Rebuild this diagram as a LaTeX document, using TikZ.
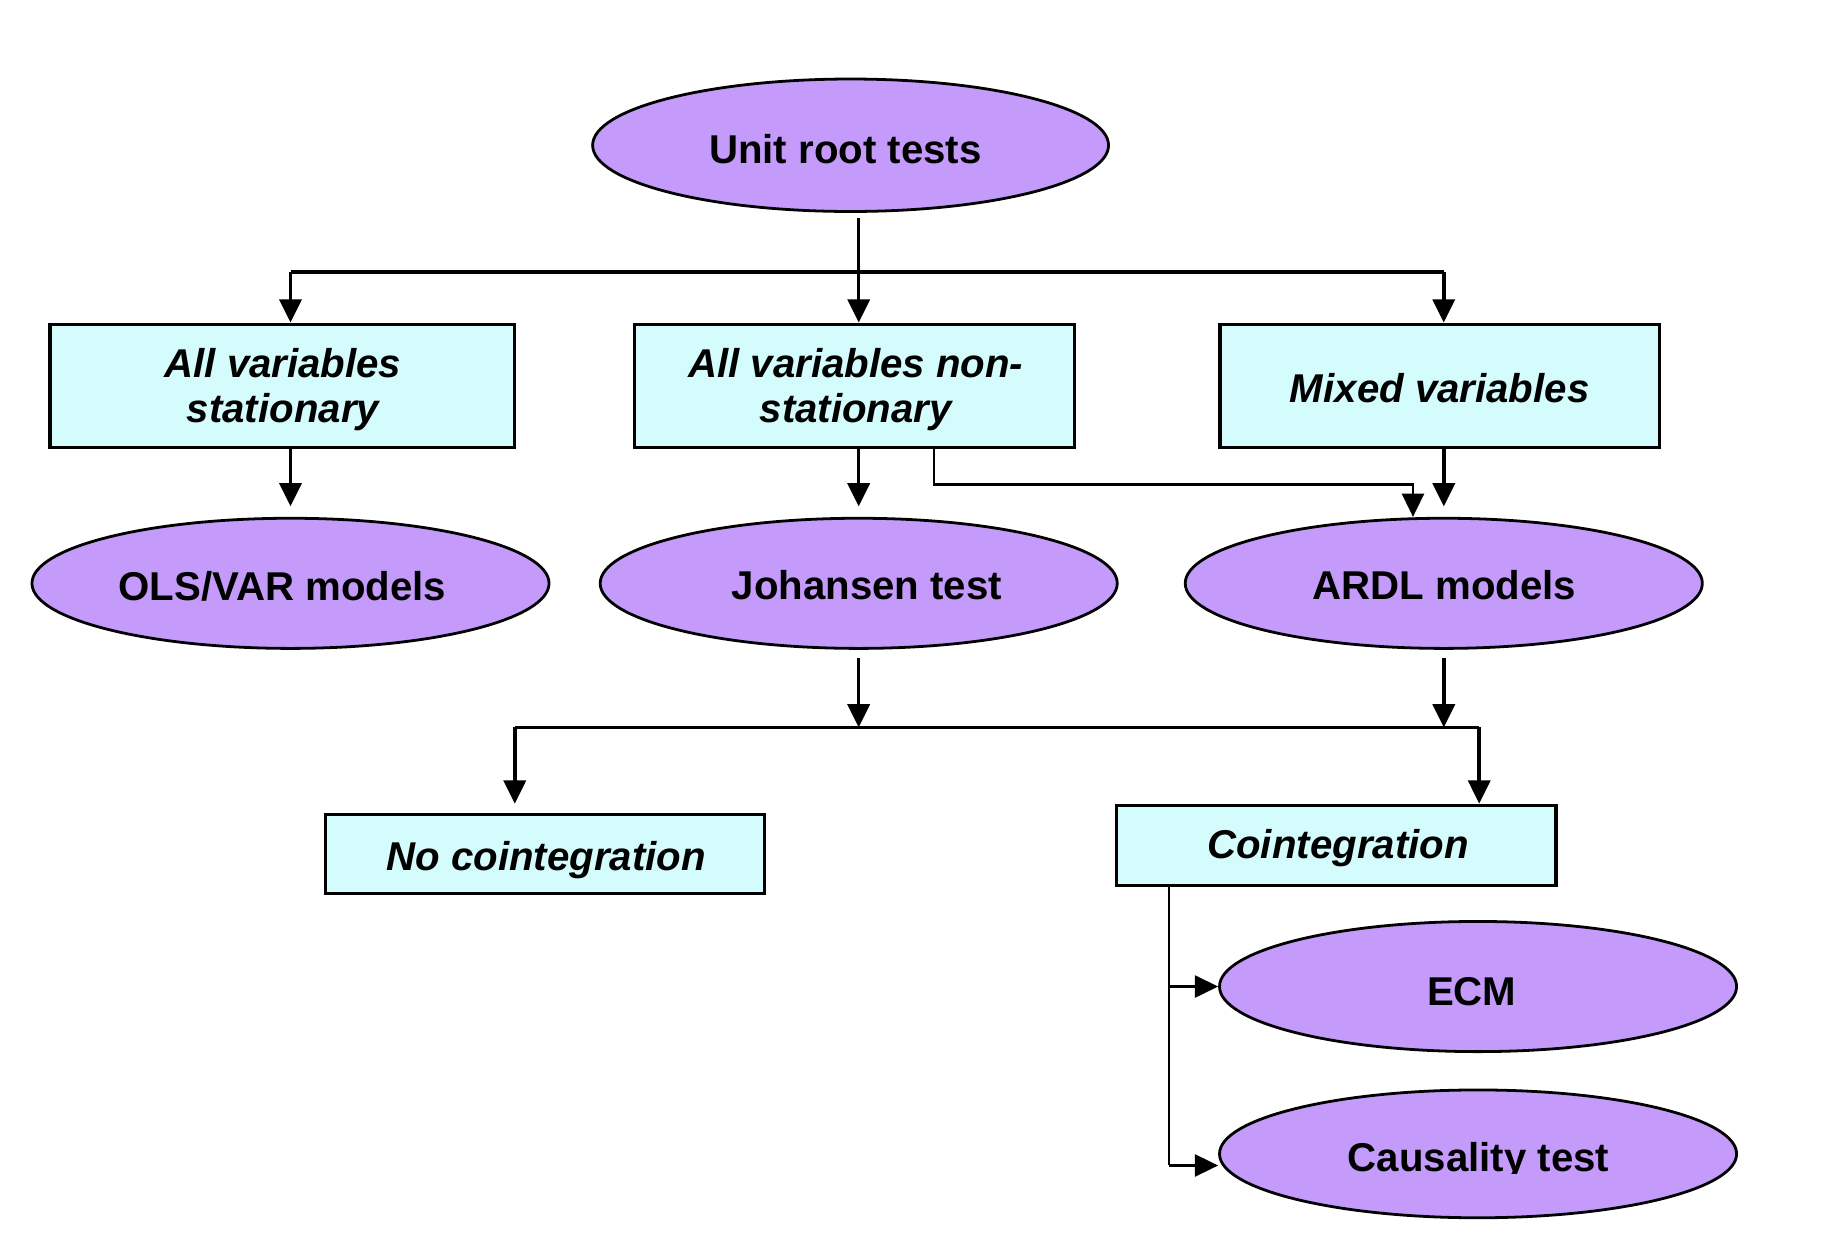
\documentclass[tikz,border=0pt]{standalone}
\usepackage{fontspec}
\setmainfont{Liberation Sans}
\usetikzlibrary{arrows.meta,shapes.geometric}
\definecolor{lav}{RGB}{196,155,250}
\definecolor{cyanbox}{RGB}{213,252,252}
\begin{document}
\begin{tikzpicture}[x=0.5pt,y=-0.5pt,
  txt/.style={inner sep=0pt,font=\fontsize{17.3}{19.5}\selectfont\bfseries},
  itxt/.style={inner sep=0pt,align=center,font=\fontsize{17.3}{19.5}\selectfont\bfseries\itshape},
  ell/.style={ellipse,draw,line width=1.2pt,fill=lav,inner sep=0pt,minimum width=222.5pt,minimum height=56pt},
  bx/.style={rectangle,draw,line width=1.4pt,fill=cyanbox,inner sep=0pt},
  ln/.style={line width=1.5pt},
  arr/.style={ln,-{Triangle[length=10pt,width=9.5pt]}},
  tln/.style={line width=1pt},
  tarr/.style={tln,-{Triangle[length=10pt,width=9.5pt]}},
]
\useasboundingbox (0,0) rectangle (1568,1071);
\fill[white] (0,0) rectangle (1568,1071);

% shapes
\node[ell,minimum width=222pt,minimum height=57pt] (u) at (732,125) {};
\node[bx,minimum width=200pt,minimum height=53pt] (b1) at (243,332) {};
\node[bx,minimum width=189.5pt,minimum height=53pt] (b2) at (735.5,332) {};
\node[bx,minimum width=189pt,minimum height=53pt] (b3) at (1239,332) {};
\node[ell] (ols) at (250,502) {};
\node[ell] (joh) at (739,502) {};
\node[ell] (ardl) at (1242.5,502) {};
\node[bx,minimum width=189pt,minimum height=34pt] (nc) at (469,735) {};
\node[bx,minimum width=189pt,minimum height=34.5pt] (co) at (1150,727.5) {};
\node[ell] (ecm) at (1272,849) {};
\node[ell,minimum height=55pt] (cau) at (1272,993) {};

% texts
\node[txt,anchor=base] (ut) at (727.5,141) {Unit root tests};
\node[itxt] (b1t) at (243.5,335) {All variables\\stationary};
\node[itxt] (b2t) at (736.5,335) {All variables non-\\stationary};
\node[itxt,anchor=base] (b3t) at (1239,346) {Mixed variables};
\node[txt,anchor=base] (olst) at (243,517) {OLS/VAR models};
\node[txt,anchor=base] (joht) at (746,516) {Johansen test};
\node[txt,anchor=base] (ardlt) at (1243,516) {ARDL models};
\node[itxt,anchor=base] (nct) at (470,749) {No cointegration};
\node[itxt,anchor=base] (cot) at (1151.5,739) {Cointegration};
\node[txt,anchor=base] (ecmt) at (1266.5,865) {ECM};
\begin{scope}
  \clip (1050,930) rectangle (1494,1010);
  \node[txt,anchor=base] (caut) at (1272.5,1008) {Causality test};
\end{scope}

% connectors, top level
\coordinate (us) at (739,188);
\coordinate (bus1) at (739,234);
\draw[arr] (us) -- (b2.north -| joh);
\draw[ln] (bus1 -| ols) -- (bus1 -| ardl);
\draw[arr] (bus1 -| ols) -- (b1.north -| ols);
\draw[arr] (bus1 -| ardl) -- (b3.north -| ardl);

% boxes to ellipses
\draw[arr] (b1.south -| ols) -- ([yshift=4.5pt]ols.north);
\draw[arr] (b2.south -| joh) -- ([yshift=4.5pt]joh.north);
\draw[arr] (b3.south -| ardl) -- ([yshift=4.5pt]ardl.north);
\coordinate (k1) at (804,417);
\coordinate (k2) at (1216,417);
\draw[tarr] (b2.south -| k1) -- (k1) -- (k2) -- ([xshift=-13.25pt]ardl.north);

% lower level
\coordinate (bus2) at (739,626);
\coordinate (bl) at (443,626);
\coordinate (br) at (1273,626);
\draw[arr] ([yshift=-3.5pt]joh.south) -- (bus2);
\draw[arr] ([yshift=-3.5pt]ardl.south) -- (bus2 -| ardl);
\draw[ln] (bl) -- (br);
\draw[arr] (bl) -- ([yshift=4pt]nc.north -| bl);
\draw[arr] (br) -- (co.north -| br);

% cointegration branch
\coordinate (cv) at (1006,1003);
\draw[tln] (co.south -| cv) -- (cv);
\draw[tarr] (ecm.west -| cv) -- (ecm.west);
\draw[tarr] (cv) -- (cv -| cau.west);
\end{tikzpicture}
\end{document}
